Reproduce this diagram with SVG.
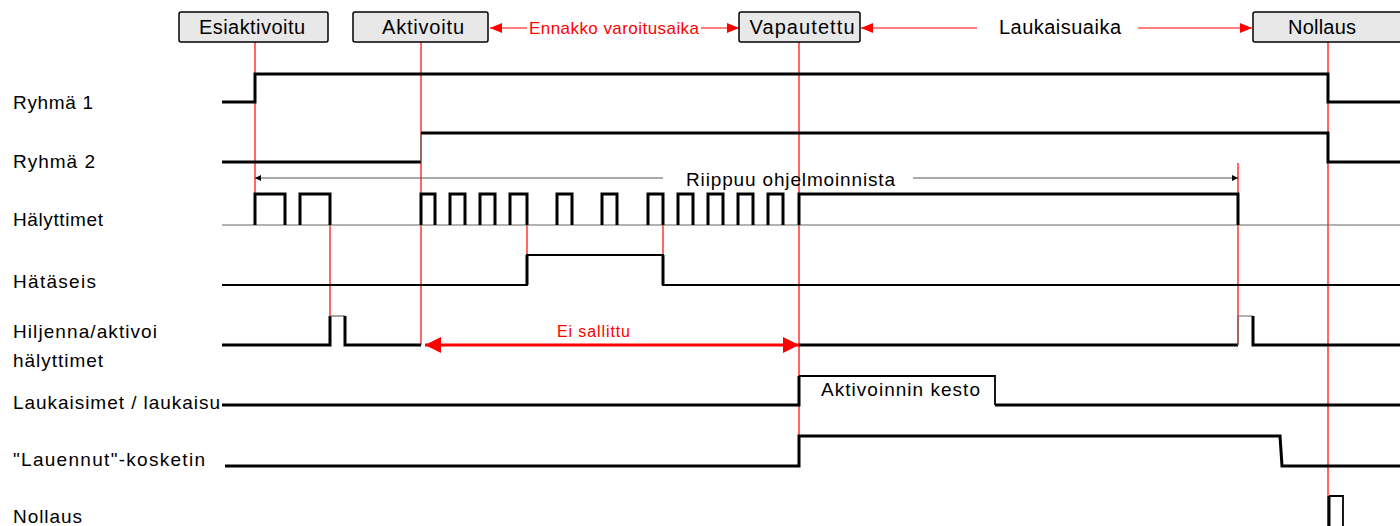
<svg xmlns="http://www.w3.org/2000/svg" width="1400" height="526" viewBox="0 0 1400 526">
<style>
.lbl{font-family:"Liberation Sans",Arial,sans-serif;font-size:19px;fill:#000}
.btxt{font-family:"Liberation Sans",Arial,sans-serif;font-size:20px;fill:#000;text-anchor:middle}
.rtxt{font-family:"Liberation Sans",Arial,sans-serif;fill:#ff0000}
.box{fill:#e8e8e8;stroke:#000;stroke-width:1.5}
.sig{fill:none;stroke:#000;stroke-width:3;stroke-linejoin:miter}
.med{fill:none;stroke:#000;stroke-width:1.8}
.thin{fill:none;stroke:#666;stroke-width:1.2}
.red{fill:none;stroke:#ff0000;stroke-width:1.2}
.redarr{fill:none;stroke:#ff0000;stroke-width:1}
.dim{fill:none;stroke:#555;stroke-width:1}
</style>
<defs>
<marker id="ra" viewBox="0 0 12 10" refX="12" refY="5" markerWidth="12" markerHeight="10" markerUnits="userSpaceOnUse" orient="auto-start-reverse"><path d="M0,0 L12,5 L0,10 z" fill="#ff0000"/></marker>
<marker id="rb" viewBox="0 0 16 16" refX="16" refY="8" markerWidth="16" markerHeight="16" markerUnits="userSpaceOnUse" orient="auto-start-reverse"><path d="M0,0 L16,8 L0,16 z" fill="#ff0000"/></marker>
<marker id="ka" viewBox="0 0 6 6" refX="6" refY="3" markerWidth="6" markerHeight="6" markerUnits="userSpaceOnUse" orient="auto-start-reverse"><path d="M0,0 L6,3 L0,6 z" fill="#000"/></marker>
</defs>
<rect width="1400" height="526" fill="#fff"/>

<g id="labels">
<text class="lbl" x="13" y="109" textLength="80">Ryhmä 1</text>
<text class="lbl" x="13" y="168" textLength="82">Ryhmä 2</text>
<text class="lbl" x="13" y="226" textLength="90">Hälyttimet</text>
<text class="lbl" x="13" y="288" textLength="83">Hätäseis</text>
<text class="lbl" x="13" y="338" textLength="144">Hiljenna/aktivoi</text>
<text class="lbl" x="13" y="367" textLength="90">hälyttimet</text>
<text class="lbl" x="13" y="409" textLength="207">Laukaisimet / laukaisu</text>
<text class="lbl" x="13" y="466" textLength="192">"Lauennut"-kosketin</text>
<text class="lbl" x="13" y="523" textLength="69">Nollaus</text>
</g>

<g id="connectors">
<!-- red event lines -->
<line class="red" x1="255" y1="42" x2="255" y2="194"/>
<line class="red" x1="421" y1="42" x2="421" y2="345"/>
<line class="red" x1="799" y1="42" x2="799" y2="436"/>
<line class="red" x1="1328" y1="42" x2="1328" y2="526"/>
<line class="red" x1="1238" y1="163" x2="1238" y2="345"/>
<line class="red" x1="330" y1="225" x2="330" y2="316"/>
<line class="red" x1="527" y1="225" x2="527" y2="255"/>
<line class="red" x1="663" y1="225" x2="663" y2="255"/>
<!-- header arrows -->
<line class="redarr" x1="490" y1="28" x2="527" y2="28" marker-start="url(#ra)"/>
<line class="redarr" x1="701" y1="28" x2="739" y2="28" marker-end="url(#ra)"/>
<line class="redarr" x1="861" y1="28" x2="977" y2="28" marker-start="url(#ra)"/>
<line class="redarr" x1="1138" y1="28" x2="1252" y2="28" marker-end="url(#ra)"/>
<!-- dependency dimension -->
<line class="dim" x1="255" y1="178" x2="663" y2="178" marker-start="url(#ka)"/>
<line class="dim" x1="913" y1="178" x2="1238" y2="178" marker-end="url(#ka)"/>
<!-- Ei sallittu -->
<line x1="425" y1="345" x2="799" y2="345" stroke="#ff0000" stroke-width="3" marker-start="url(#rb)" marker-end="url(#rb)"/>
</g>

<g id="header-texts">
<text class="rtxt" x="529" y="34" font-size="17" textLength="170">Ennakko varoitusaika</text>
<text class="lbl" x="999" y="34" font-size="20" textLength="122" style="font-size:20px">Laukaisuaika</text>
<text class="lbl" x="686" y="186" textLength="209">Riippuu ohjelmoinnista</text>
<text class="rtxt" x="557" y="337" font-size="16" textLength="73">Ei sallittu</text>
</g>

<g id="node-esiaktivoitu">
<rect class="box" x="179" y="12" width="149" height="30" rx="2"/>
<text class="btxt" x="252" y="34" textLength="106">Esiaktivoitu</text>
</g>
<g id="node-aktivoitu">
<rect class="box" x="353" y="12" width="135" height="30" rx="2"/>
<text class="btxt" x="423" y="34" textLength="82">Aktivoitu</text>
</g>
<g id="node-vapautettu">
<rect class="box" x="739" y="12" width="121" height="30" rx="2"/>
<text class="btxt" x="802" y="34" textLength="105">Vapautettu</text>
</g>
<g id="node-nollaus">
<rect class="box" x="1253" y="12" width="160" height="30" rx="2"/>
<text class="btxt" x="1322" y="34" textLength="68">Nollaus</text>
</g>

<g id="signal-ryhma1">
<path class="sig" d="M222,102 H255 V74 H1328 V102 H1400"/>
</g>
<g id="signal-ryhma2">
<path class="sig" d="M222,162 H421"/>
<path class="thin" d="M421,162 V133"/>
<path class="sig" d="M421,133 H1328 V162 H1400"/>
</g>
<g id="signal-halyttimet">
<path class="thin" d="M222,225 H1400"/>
<path class="sig" d="M255,225 V194 H285 V225 M300,225 V194 H330 V225
M421,225 V194 H435 V225 M450,225 V194 H465 V225 M480,225 V194 H495 V225 M510,225 V194 H527 V225
M557,225 V194 H572 V225 M602,225 V194 H617 V225 M648,225 V194 H663 V225
M678,225 V194 H693 V225 M708,225 V194 H723 V225 M738,225 V194 H753 V225 M768,225 V194 H783 V225
M799,225 V194 H1238 V225"/>
</g>
<g id="signal-hataseis">
<path class="med" d="M222,285 H527 V255 H663 V285 H1400"/>
<path class="sig" d="M527,285 V255 M663,255 V285"/>
</g>
<g id="signal-hiljenna">
<path class="sig" d="M222,345 H330 V316"/>
<path class="thin" d="M330,316 H345"/>
<path class="sig" d="M345,316 V345 H421"/>
<path class="sig" d="M799,345 H1238"/>
<path class="thin" d="M1238,345 V316 H1253"/>
<path class="sig" d="M1253,316 V345 H1400"/>
</g>
<g id="signal-laukaisimet">
<path class="sig" d="M222,405 H799 V376"/>
<path class="med" d="M799,376 H995 V405"/>
<path class="sig" d="M995,405 H1400"/>
<text class="lbl" x="821" y="396" textLength="159">Aktivoinnin kesto</text>
</g>
<g id="signal-lauennut">
<path class="sig" d="M225,466 H799 V436 H1280 L1282,466 H1400"/>
</g>
<g id="signal-nollaus">
<path class="sig" d="M1329,526 V496"/>
<path class="med" d="M1329,496 H1343 V526"/>
</g>
</svg>
